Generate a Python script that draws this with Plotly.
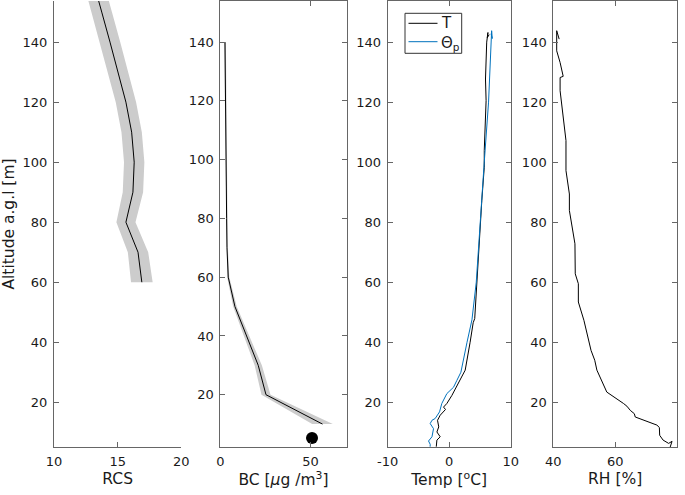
import plotly.graph_objects as go

# ---- data ----
rcs_alt = [60, 70, 80, 90, 100, 110, 120, 130, 140, 150, 160]
rcs_mean = [16.9, 16.6, 15.65, 16.2, 16.3, 16.1, 15.65, 15.05, 14.4, 13.75, 13.1]
rcs_err = [0.85, 0.8, 0.75, 0.8, 0.8, 0.8, 0.8, 0.8, 0.8, 0.8, 0.8]

bc_alt = [10, 20, 30, 40, 50, 60, 70, 80, 90, 100, 110, 120, 130, 140]
bc_mean = [56.6, 25.3, 21.0, 14.6, 8.1, 4.4, 3.7, 3.5, 3.4, 3.2, 3.0, 2.9, 2.8, 2.6]
bc_err = [5.7, 2.5, 2.0, 1.5, 1.0, 0.6, 0.5, 0.5, 0.5, 0.5, 0.5, 0.5, 0.5, 0.5]
bc_ground_alt = [5.3]
bc_ground = [50.8]

t_alt = [5.2, 7.4, 8.5, 10.1, 11.8, 14.0, 15.7, 17.6, 18.4, 19.6, 22.3, 25.1, 27.3,
         30.7, 40, 46.5, 47.9, 60, 80, 87.2, 98.3, 103.9, 120.5, 127.7, 140, 143.2, 141.5, 142.5]
t_val = [-2.1, -2.0, -1.46, -2.0, -1.7, -1.9, -1.46, -0.6, -0.92, -0.38, 0.44, 1.2, 1.79,
         2.6, 3.4, 3.9, 4.15, 4.5, 5.0, 5.3, 5.7, 5.7, 6.0, 5.9, 6.1, 6.3, 6.2, 6.5]

th_alt = [5.2, 6.0, 7.1, 8.5, 11.2, 12.9, 14.0, 14.6, 16.8, 19.6, 22.9, 25, 27.3,
          30, 40, 47.5, 60, 80, 100, 120, 140, 143.8, 141.2, 142.8]
th_val = [-3.1, -3.09, -3.36, -2.8, -2.55, -3.09, -2.8, -2.28, -1.57, -1.2, -0.38, 0.7, 1.25,
          1.9, 2.9, 3.7, 4.4, 5.0, 5.7, 6.4, 6.8, 6.9, 7.0, 6.8]

rh_alt = [5.1, 7.0, 6.3, 7.4, 9.0, 11.6, 12.4, 15.1, 16.2, 17.3, 18.7, 19.6, 23.4, 30.7, 34,
          37.3, 47.3, 53.4, 59.5, 62.8, 72.8, 76.1, 83.9, 89.4, 97.2, 107.2, 123.8, 128.2,
          128.6, 133.2, 137.1, 143.8, 141.0]
rh_val = [77.8, 78.4, 77.3, 75.5, 74.4, 74.3, 73.5, 66.5, 66.2, 64.9, 63.8, 62.7, 57.3, 54.1, 53.4,
          52.2, 49.9, 48.1, 48.1, 47.1, 47.0, 46.5, 45.2, 45.2, 44.1, 44.1, 42.2, 42.2,
          43.2, 42.2, 41.1, 41.1, 41.9]

alt_ticks = [20, 40, 60, 80, 100, 120, 140]
rcs_ticks = [10, 15, 20]
bc_ticks = [0, 50]
temp_ticks = [-10, 0, 10]
temp_labels = ['-10', '0', '10']
rh_ticks = [40, 60, 80]
legend_names = ['T', 'Θ<sub>p</sub>']

band = '#cccccc'
blue = '#0072BD'
axc = '#666666'
txt = '#1a1a1a'

fig = go.Figure()

# RCS
fig.add_trace(go.Scatter(
    x=[m + e for m, e in zip(rcs_mean, rcs_err)] + [m - e for m, e in zip(rcs_mean, rcs_err)][::-1],
    y=rcs_alt + rcs_alt[::-1], fill='toself', fillcolor=band, line=dict(width=0),
    mode='lines', showlegend=False, hoverinfo='skip', xaxis='x', yaxis='y'))
fig.add_trace(go.Scatter(x=rcs_mean, y=rcs_alt, mode='lines', line=dict(color='black', width=1),
                         showlegend=False, xaxis='x', yaxis='y'))

# BC
fig.add_trace(go.Scatter(
    x=[m + e for m, e in zip(bc_mean, bc_err)] + [m - e for m, e in zip(bc_mean, bc_err)][::-1],
    y=bc_alt + bc_alt[::-1], fill='toself', fillcolor=band, line=dict(width=0),
    mode='lines', showlegend=False, hoverinfo='skip', xaxis='x2', yaxis='y2'))
fig.add_trace(go.Scatter(x=bc_mean, y=bc_alt, mode='lines', line=dict(color='black', width=1),
                         showlegend=False, xaxis='x2', yaxis='y2'))
fig.add_trace(go.Scatter(x=bc_ground, y=bc_ground_alt, mode='markers',
                         marker=dict(color='black', size=12), showlegend=False,
                         xaxis='x2', yaxis='y2', cliponaxis=False))

# Temperature
fig.add_trace(go.Scatter(x=t_val, y=t_alt, mode='lines', line=dict(color='black', width=1),
                         name=legend_names[0], showlegend=False, xaxis='x3', yaxis='y3'))
fig.add_trace(go.Scatter(x=th_val, y=th_alt, mode='lines', line=dict(color=blue, width=1),
                         name=legend_names[1], showlegend=False, xaxis='x3', yaxis='y3'))

# RH
fig.add_trace(go.Scatter(x=rh_val, y=rh_alt, mode='lines', line=dict(color='black', width=1),
                         showlegend=False, xaxis='x4', yaxis='y4'))

W, H = 685, 495
ml, mr, mt, mb = 54, 8, 1, 48
pw = W - ml - mr
ph = H - mt - mb
edges = [(54, 181.3), (220.3, 346.7), (387.7, 510.7), (553.3, 677)]
doms = [[(a - ml) / pw, min(1, (b - ml) / pw)] for a, b in edges]


def px(x):
    return (x - ml) / pw


def py(y):
    return 1 - (y - mt) / ph


tickf = dict(family='DejaVu Sans', size=13, color=txt)
titf = dict(family='DejaVu Sans', size=15.5, color=txt)


def xax(dom, rng, vals, title, box, labels=None):
    return dict(domain=dom, range=rng, tickvals=vals, ticktext=labels or [str(v) for v in vals],
                showgrid=False, zeroline=False, automargin=False,
                showline=True, linecolor=axc, linewidth=1, ticks='inside', ticklen=5,
                tickcolor=axc, mirror='ticks' if box else False, tickfont=tickf,
                ticklabelstandoff=2,
                title=dict(text=title, font=titf, standoff=5), fixedrange=True)


def yax(rng, anchor, box, title=None):
    d = dict(range=rng, tickvals=alt_ticks, showgrid=False, zeroline=False, automargin=False,
             showline=True, linecolor=axc, linewidth=1, ticks='inside', ticklen=5,
             tickcolor=axc, mirror='ticks' if box else False, tickfont=tickf,
             anchor=anchor, ticklabelstandoff=3, fixedrange=True)
    if title:
        d['title'] = dict(text=title, font=titf, standoff=6)
    return d


# legend box drawn by hand (MATLAB style)
shapes = [
    dict(type='rect', xref='paper', yref='paper', x0=px(405), x1=px(461.7), y0=py(53.3), y1=py(13.3),
         line=dict(color='#333333', width=1), fillcolor='white', layer='above'),
    dict(type='line', xref='paper', yref='paper', x0=px(408.5), x1=px(437.5), y0=py(23.3), y1=py(23.3),
         line=dict(color='black', width=1), layer='above'),
    dict(type='line', xref='paper', yref='paper', x0=px(408.5), x1=px(437.5), y0=py(41.7), y1=py(41.7),
         line=dict(color=blue, width=1), layer='above'),
]
annotations = [
    dict(text=legend_names[0], xref='paper', yref='paper', x=px(439), y=py(23.5), xanchor='left',
         yanchor='middle', showarrow=False, font=dict(family='DejaVu Sans', size=15, color=txt)),
    dict(text=legend_names[1], xref='paper', yref='paper', x=px(439), y=py(43), xanchor='left',
         yanchor='middle', showarrow=False, font=dict(family='DejaVu Sans', size=15, color=txt)),
]

fig.update_layout(
    width=W, height=H, margin=dict(l=ml, r=mr, t=mt, b=mb, autoexpand=False),
    paper_bgcolor='white', plot_bgcolor='white', font=dict(family='DejaVu Sans', color=txt),
    xaxis=xax(doms[0], [10, 20], rcs_ticks, 'RCS', False),
    xaxis2=xax(doms[1], [0, 70], bc_ticks, 'BC [<i>μ</i>g /m<sup>3</sup>]', True),
    xaxis3=xax(doms[2], [-10, 10], temp_ticks, 'Temp [<sup>o</sup>C]', True, temp_labels),
    xaxis4=xax(doms[3], [40, 80], rh_ticks, 'RH [%]', True),
    yaxis=yax([5.1, 153.7], 'x', False, 'Altitude a.g.l [m]'),
    yaxis2=yax([2.2, 154], 'x2', True),
    yaxis3=yax([5.1, 153.7], 'x3', True),
    yaxis4=yax([5.1, 153.7], 'x4', True),
    shapes=shapes, annotations=annotations,
    showlegend=False,
)

# the page's default body margin would shift the fixed-size figure
fig.write_html("out.html", config={'displayModeBar': False},
               post_script="document.body.style.margin='0';document.body.style.overflow='hidden';")
